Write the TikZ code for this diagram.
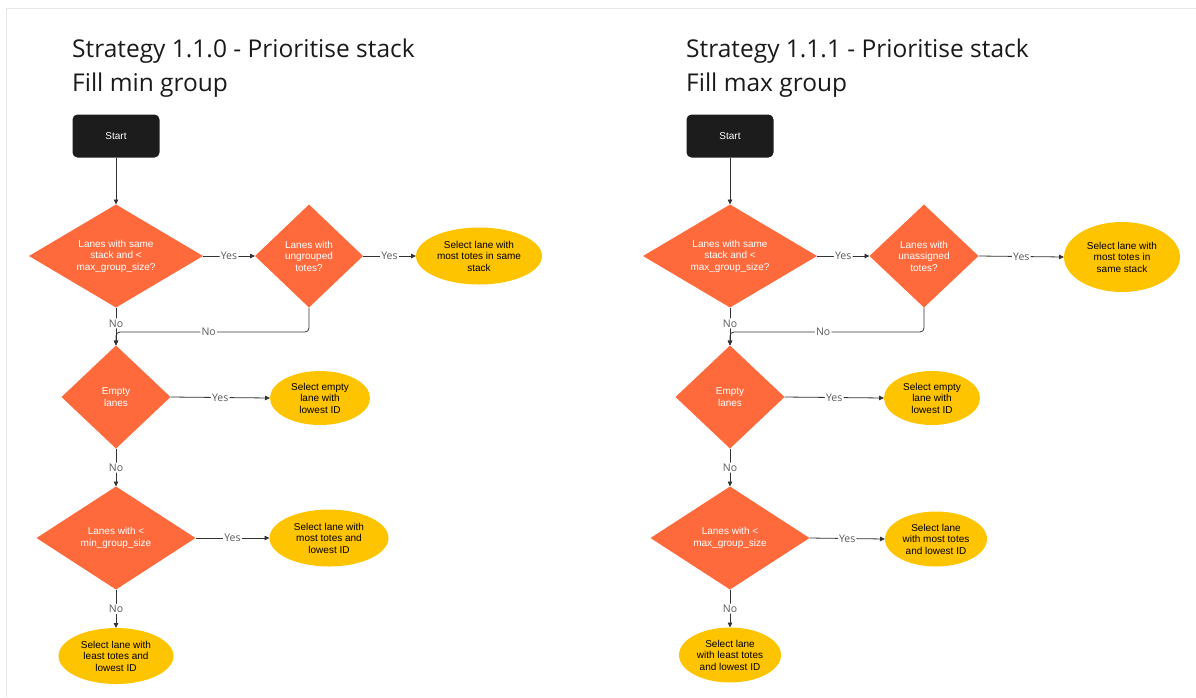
\documentclass[tikz,border=0pt]{standalone}
\usepackage{fontspec}
\setmainfont{Liberation Sans}
\newfontfamily\titlefont{Open Sans}
\usetikzlibrary{shapes.geometric,arrows.meta}
\definecolor{decision}{HTML}{FF6A3D}
\definecolor{outcome}{HTML}{FFC400}
\definecolor{startfill}{HTML}{1C1C1C}
\definecolor{wire}{HTML}{333333}
\definecolor{labelgray}{HTML}{5A5A5A}
\definecolor{framegray}{HTML}{E8E8E8}
\definecolor{titleink}{HTML}{1A1A1A}
\begin{document}
\begin{tikzpicture}[x=1pt,y=-1pt,
  shapetext/.style={font=\fontsize{10}{11.5}\selectfont,align=center,inner sep=0pt,outer sep=0pt},
  startbox/.style={shapetext,rectangle,rounded corners=5pt,fill=startfill,text=white,minimum width=87pt,minimum height=43pt},
  decisionbox/.style={shapetext,diamond,aspect=1,fill=decision,text=white},
  outcomebox/.style={shapetext,ellipse,fill=outcome,text=black},
  heading/.style={font=\titlefont\fontsize{24.5}{30}\selectfont,text=titleink,anchor=base west,inner sep=0pt},
  wire/.style={draw=wire,line width=0.8pt,rounded corners=4pt,-{Triangle[length=5pt,width=4.5pt]}},
  lab/.style={font=\titlefont\fontsize{10.5}{12}\selectfont,text=labelgray,fill=white,inner sep=1.2pt}
]
\useasboundingbox (0,0) rectangle (1196,697);
% page frame
\draw[framegray,line width=0.8pt] (6.5,697) -- (6.5,8.5) -- (1196,8.5);

% ---------------- Strategy 1.1.0 ----------------
\node[heading] (Ltitle1) at (72,57) {Strategy 1.1.0 - Prioritise stack};
\node[heading] (Ltitle2) at (72,91) {Fill min group};

\node[startbox] (Lstart) at (116,136) {Start};
\node[decisionbox,aspect=2,minimum width=174pt,minimum height=103pt] (Ld1) at (116,256) {Lanes with same\\stack and <\\max\_group\_size?};
\node[decisionbox,minimum width=108pt,minimum height=103pt] (Ld2) at (309,256) {Lanes with\\ungrouped\\totes?};
\node[outcomebox,minimum width=126pt,minimum height=57pt] (Le1) at (479,256) {Select lane with\\most totes in same\\stack};
\node[decisionbox,minimum width=109pt,minimum height=103pt] (Ld3) at (116,397) {Empty\\lanes};
\node[outcomebox,minimum width=100pt,minimum height=54pt] (Le2) at (320,398) {Select empty\\lane with\\lowest ID};
\node[decisionbox,aspect=1.6,minimum width=159pt,minimum height=103pt] (Ld4) at (116,538) {Lanes with <\\min\_group\_size};
\node[outcomebox,minimum width=119pt,minimum height=57pt] (Le3) at (329,538) {Select lane with\\most totes and\\lowest ID};
\node[outcomebox,minimum width=115pt,minimum height=56pt] (Le4) at (116,656) {Select lane with\\least totes and\\lowest ID};
\coordinate (Lj) at (116,332);

\draw[wire] (Lstart) -- (Ld1);
\draw[wire] (Ld1.east) -- node[lab] {Yes} (Ld2.west);
\draw[wire] (Ld2.east) -- node[lab] {Yes} (Le1.west);
\draw[wire] (Ld1.south) -- node[lab,pos=0.42] {No} (Ld3.north);
\draw[wire] (Ld2.south) |- node[lab,pos=0.76] {No} (Lj) -- (Ld3.north);
\draw[wire] (Ld3.east) -- node[lab] {Yes} (Le2.west);
\draw[wire] (Ld3.south) -- node[lab] {No} (Ld4.north);
\draw[wire] (Ld4.east) -- node[lab] {Yes} (Le3.west);
\draw[wire] (Ld4.south) -- node[lab] {No} (Le4.north);

% ---------------- Strategy 1.1.1 ----------------
\node[heading] (Rtitle1) at (686,57) {Strategy 1.1.1 - Prioritise stack};
\node[heading] (Rtitle2) at (686,91) {Fill max group};

\node[startbox] (Rstart) at (730,136) {Start};
\node[decisionbox,aspect=2,minimum width=174pt,minimum height=103pt] (Rd1) at (730,256) {Lanes with same\\stack and <\\max\_group\_size?};
\node[decisionbox,minimum width=109pt,minimum height=103pt] (Rd2) at (924,256) {Lanes with\\unassigned\\totes?};
\node[outcomebox,minimum width=116pt,minimum height=70pt] (Re1) at (1122,257) {Select lane with\\most totes in\\same stack};
\node[decisionbox,minimum width=109pt,minimum height=103pt] (Rd3) at (730,397) {Empty\\lanes};
\node[outcomebox,minimum width=96pt,minimum height=54pt] (Re2) at (932,398) {Select empty\\lane with\\lowest ID};
\node[decisionbox,aspect=1.6,minimum width=159pt,minimum height=103pt] (Rd4) at (730,538) {Lanes with <\\max\_group\_size};
\node[outcomebox,minimum width=102pt,minimum height=55pt] (Re3) at (936,539) {Select lane\\with most totes\\and lowest ID};
\node[outcomebox,minimum width=102pt,minimum height=55pt] (Re4) at (730,655) {Select lane\\with least totes\\and lowest ID};
\coordinate (Rj) at (730,332);

\draw[wire] (Rstart) -- (Rd1);
\draw[wire] (Rd1.east) -- node[lab] {Yes} (Rd2.west);
\draw[wire] (Rd2.east) -- node[lab] {Yes} (Re1.west);
\draw[wire] (Rd1.south) -- node[lab,pos=0.42] {No} (Rd3.north);
\draw[wire] (Rd2.south) |- node[lab,pos=0.76] {No} (Rj) -- (Rd3.north);
\draw[wire] (Rd3.east) -- node[lab] {Yes} (Re2.west);
\draw[wire] (Rd3.south) -- node[lab] {No} (Rd4.north);
\draw[wire] (Rd4.east) -- node[lab] {Yes} (Re3.west);
\draw[wire] (Rd4.south) -- node[lab] {No} (Re4.north);
\end{tikzpicture}
\end{document}
